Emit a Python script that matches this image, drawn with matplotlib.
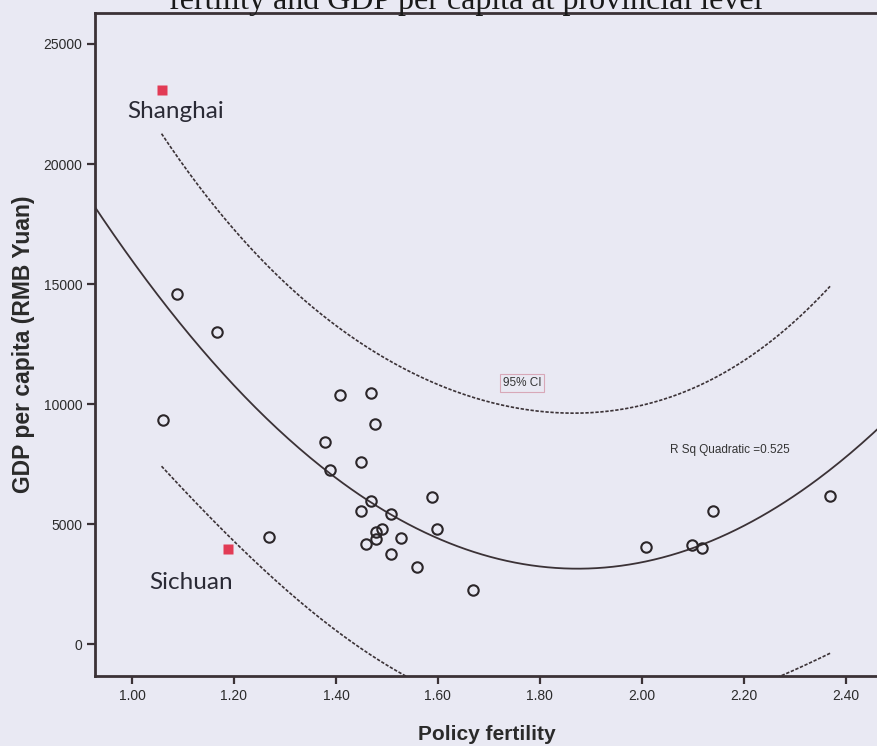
import numpy as np
import matplotlib.pyplot as plt

# policy fertility vs GDP per capita, one point per province
fertility = [1.088, 1.167, 1.060, 1.408, 1.468, 1.477, 1.379, 1.449, 1.388, 1.588,
             1.468, 1.449, 1.508, 1.599, 1.490, 1.478, 1.478, 1.528, 1.458, 1.269,
             1.508, 1.559, 1.669, 2.139, 2.369, 2.008, 2.099, 2.118]
gdp = [14601, 13018, 9354, 10370, 10453, 9175, 8437, 7605, 7259, 6134,
       5980, 5564, 5427, 4789, 4789, 4689, 4373, 4414, 4165, 4481,
       3761, 3207, 2261, 5564, 6176, 4065, 4135, 3998]

# provinces picked out in red
named = ["Shanghai", "Sichuan"]
named_fert = [1.058, 1.189]
named_gdp = [23084, 3956]

xticks = [1.00, 1.20, 1.40, 1.60, 1.80, 2.00, 2.20, 2.40]
yticks = [0, 5000, 10000, 15000, 20000, 25000]

bg = '#e9e9f3'
ink = '#3b3236'

# quadratic fit with 95% individual prediction interval
x = np.array(fertility + named_fert)
y = np.array(gdp + named_gdp)
coef = np.polyfit(x, y, 2)
X = np.vstack([x**2, x, np.ones_like(x)]).T
resid = y - X @ coef
dof = len(x) - 3
s = np.sqrt(np.sum(resid**2) / dof)
XtX_inv = np.linalg.inv(X.T @ X)
t_crit = 2.052  # t(0.975, 27)

xs_fit = np.linspace(0.90, 2.50, 300)
xs_ci = np.linspace(x.min(), x.max(), 300)
Xc = np.vstack([xs_ci**2, xs_ci, np.ones_like(xs_ci)]).T
h = np.einsum('ij,jk,ik->i', Xc, XtX_inv, Xc)
half = t_crit * s * np.sqrt(1 + h)
yc = Xc @ coef

fig = plt.figure(figsize=(8.78, 7.46), dpi=100, facecolor=bg)
ax = fig.add_axes([0.1082, 0.0938, 0.8918, 0.8888])
ax.set_facecolor(bg)

ax.plot(xs_fit, np.polyval(coef, xs_fit), color=ink, lw=1.3)
ax.plot(xs_ci, yc + half, color=ink, lw=1.2, ls=(0, (2, 1)))
ax.plot(xs_ci, yc - half, color=ink, lw=1.2, ls=(0, (2, 1)))

ax.plot(fertility, gdp, 'o', ms=7.5, mfc='none', mec='#2b2629', mew=1.5)
ax.plot(named_fert, named_gdp, 's', ms=7.5, color='#e23b55', mec='none')

# labels for the two highlighted provinces
ax.text(1.086, 22180, named[0], ha='center', va='center',
        fontsize=17.5, family='Lato', color='#2a2a35')
ax.text(1.116, 2590, named[1], ha='center', va='center',
        fontsize=17.5, family='Lato', color='#2a2a35')

ax.text(1.765, 10880, '95% CI', ha='center', va='center', fontsize=8.5,
        family='Liberation Sans', color='#333333',
        bbox=dict(boxstyle='square,pad=0.25', fc='none', ec='#d8a8b8', lw=0.8))
ax.text(2.055, 8090, 'R Sq Quadratic =0.525', ha='left', va='center',
        fontsize=8.5, family='Liberation Sans', color='#333333')

ax.set_xlim(0.9275, 2.463)
ax.set_ylim(-1320, 26290)
ax.set_xticks(xticks)
ax.set_xticklabels(['%.2f' % v for v in xticks])
ax.set_yticks(yticks)
ax.set_yticklabels([str(v) for v in yticks])
ax.tick_params(direction='out', length=6, width=1.6, color=ink,
               labelsize=10, labelcolor='#2b2b2b', pad=3)
for lab in ax.get_xticklabels() + ax.get_yticklabels():
    lab.set_family('Liberation Sans')

for side in ['left', 'bottom', 'top']:
    ax.spines[side].set_color(ink)
    ax.spines[side].set_linewidth(2)
ax.spines['right'].set_visible(False)

ax.set_xlabel('Policy fertility', fontsize=15, fontweight='bold',
              family='Liberation Sans', color='#2a2a2a', labelpad=16)
ax.set_ylabel('GDP per capita (RMB Yuan)', fontsize=16.5, fontweight='bold',
              family='Liberation Sans', color='#2a2a2a', labelpad=6)

fig.text(0.531, 0.988, 'fertility and GDP per capita at provincial level',
         ha='center', va='baseline', fontsize=23, family='Liberation Serif',
         color='#1a1a1a')

fig.savefig('out.png', dpi=100, facecolor=bg)
